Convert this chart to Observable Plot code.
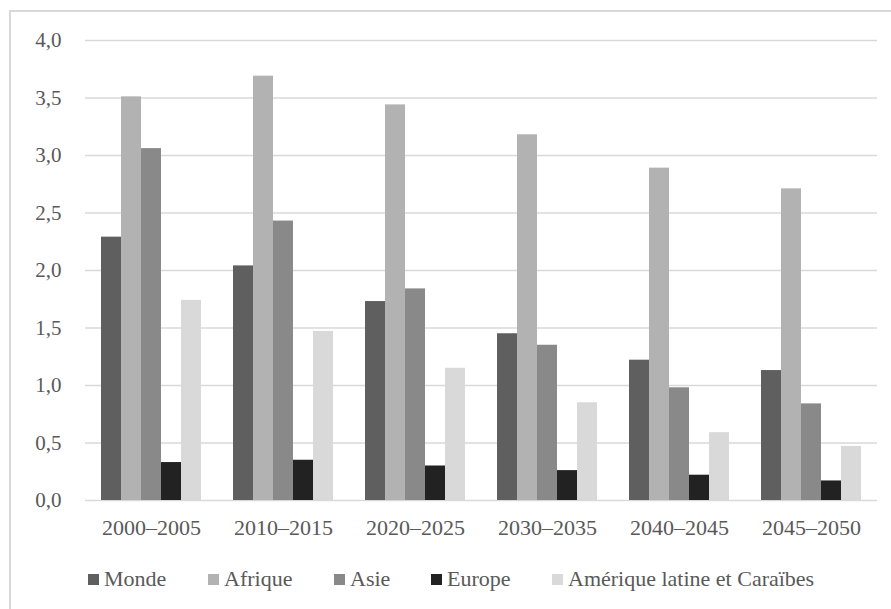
<!DOCTYPE html>
<html>
<head>
<meta charset="utf-8">
<script src="https://cdn.jsdelivr.net/npm/d3@7"></script>
<script src="https://cdn.jsdelivr.net/npm/@observablehq/plot@0.6"></script>
<style>
  html, body { margin: 0; padding: 0; background: #fff; }
  #page { position: relative; width: 891px; height: 609px; overflow: hidden; font-family: "Liberation Serif", Tinos, "DejaVu Serif", "Noto Serif", serif; }
  #frame { position: absolute; left: 9px; top: 10px; width: 900px; height: 620px; border-top: 2px solid #d9d9d9; border-left: 2px solid #d9d9d9; }
  #chart { position: absolute; left: 0; top: 0; }
  #legend { position: absolute; left: 88px; top: 566px; display: flex; align-items: center; color: #595959; font-size: 22px; }
  #legend .item { display: flex; align-items: center; }
  #legend .item:nth-child(1) { width: 120px; }
  #legend .item:nth-child(2) { width: 126px; }
  #legend .item:nth-child(3) { width: 97px; }
  #legend .item:nth-child(4) { width: 121px; }
  #legend .sw { width: 11px; height: 11px; margin-right: 5px; flex: none; }
</style>
</head>
<body>
<div id="page">
  <div id="frame"></div>
  <div id="chart"></div>
  <div id="legend"></div>
</div>
<script>
// Periods on the horizontal axis
const periods = ["2000–2005", "2010–2015", "2020–2025", "2030–2035", "2040–2045", "2045–2050"];
// Regions (one bar per region in each period)
const regions = ["Monde", "Afrique", "Asie", "Europe", "Amérique latine et Caraïbes"];
const regionColors = ["#5f5f5f", "#b2b2b2", "#898989", "#222222", "#d9d9d9"];

// Values per region, in period order
const monde   = [2.29, 2.04, 1.73, 1.45, 1.22, 1.13];
const afrique = [3.51, 3.69, 3.44, 3.18, 2.89, 2.71];
const asie    = [3.06, 2.43, 1.84, 1.35, 0.98, 0.84];
const europe  = [0.33, 0.35, 0.30, 0.26, 0.22, 0.17];
const amerique = [1.74, 1.47, 1.15, 0.85, 0.59, 0.47];

const yTicks = [0, 0.5, 1, 1.5, 2, 2.5, 3, 3.5, 4];

const seriesValues = [monde, afrique, asie, europe, amerique];
const rows = [];
periods.forEach((p, i) => {
  regions.forEach((r, j) => rows.push({period: p, region: r, value: seriesValues[j][i]}));
});

const fmt = d => d.toFixed(1).replace(".", ",");
const ink = "#595959";
const serifStack = "'Liberation Serif', Tinos, 'DejaVu Serif', 'Noto Serif', serif";

const chart = Plot.plot({
  width: 891,
  height: 530,
  marginLeft: 84,
  marginRight: 14,
  marginTop: 40,
  marginBottom: 30,
  style: {fontFamily: serifStack, background: "transparent", overflow: "visible"},
  fx: {domain: periods, padding: 0, label: null},
  x: {domain: regions, paddingInner: 0, paddingOuter: 0.76, axis: null},
  y: {domain: [0, 4], label: null},
  color: {domain: regions, range: regionColors},
  marks: [
    Plot.gridY(yTicks, {stroke: "#d9d9d9", strokeOpacity: 1, strokeWidth: 1.6}),
    Plot.barY(rows, {fx: "period", x: "region", y: "value", fill: "region"}),
    Plot.axisY(yTicks, {tickSize: 0, tickPadding: 24, tickFormat: fmt, fontSize: 21, fill: ink, fontFamily: serifStack, label: null}),
    Plot.axisFx({anchor: "bottom", tickSize: 0, tickPadding: 19, fontSize: 22, fill: ink, fontFamily: serifStack, label: null})
  ]
});
document.getElementById("chart").appendChild(chart);

// Legend below the chart
const legend = document.getElementById("legend");
regions.forEach((r, j) => {
  const item = document.createElement("div");
  item.className = "item";
  const sw = document.createElement("span");
  sw.className = "sw";
  sw.style.background = regionColors[j];
  const label = document.createElement("span");
  label.textContent = r;
  item.appendChild(sw);
  item.appendChild(label);
  legend.appendChild(item);
});
</script>
</body>
</html>
